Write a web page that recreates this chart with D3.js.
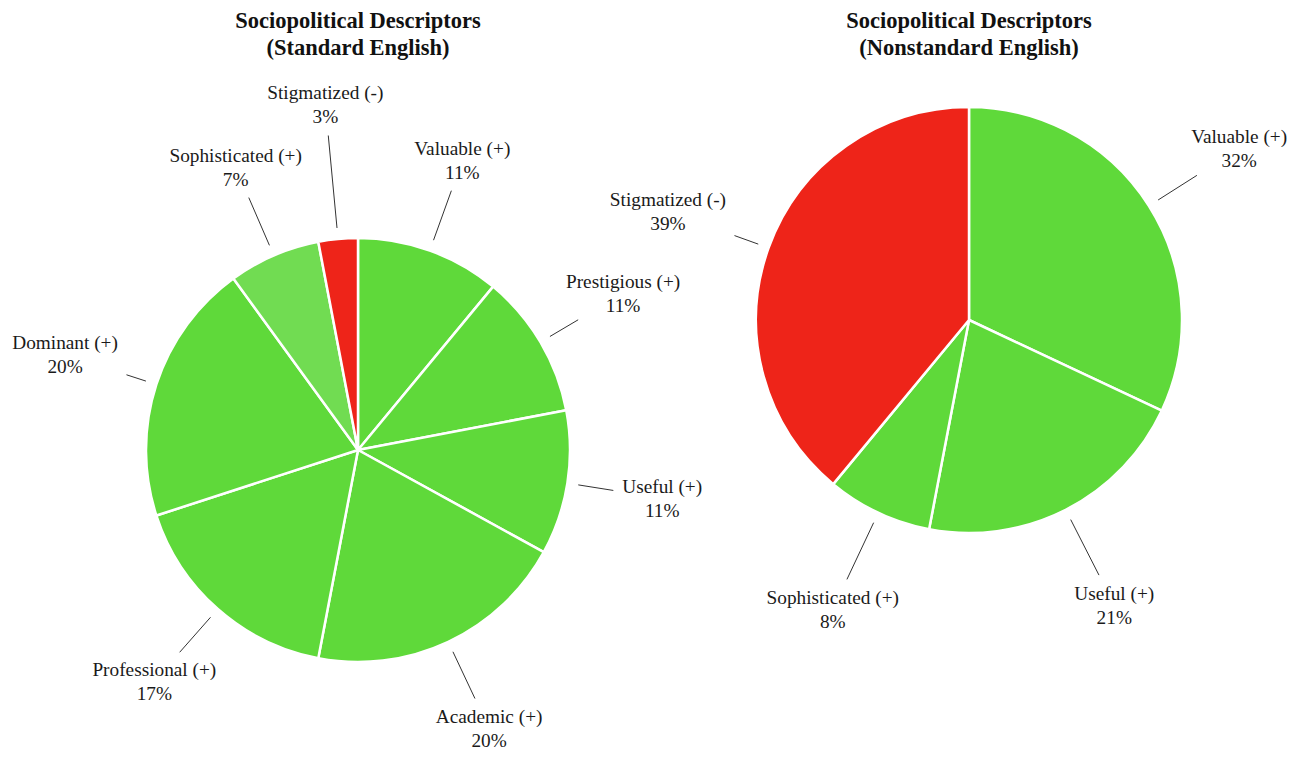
<!DOCTYPE html>
<html>
<head>
<meta charset="utf-8">
<script src="https://cdn.jsdelivr.net/npm/d3@7"></script>
<style>
  html, body { margin: 0; padding: 0; background: #ffffff; }
  svg { display: block; }
</style>
</head>
<body>
<svg id="chart" width="1299" height="759"></svg>
<script>
// Standard English descriptors (percent of responses)
const standardCategories = ["Valuable (+)", "Prestigious (+)", "Useful (+)", "Academic (+)",
  "Professional (+)", "Dominant (+)", "Sophisticated (+)", "Stigmatized (-)"];
const standardValues = [11, 11, 11, 20, 17, 20, 7, 3];

// Nonstandard English descriptors (percent of responses)
const nonstandardCategories = ["Valuable (+)", "Useful (+)", "Sophisticated (+)", "Stigmatized (-)"];
const nonstandardValues = [32, 21, 8, 39];

const titleLines = [
  ["Sociopolitical Descriptors", "(Standard English)"],
  ["Sociopolitical Descriptors", "(Nonstandard English)"]
];

const GREEN = "#5fd93a", LIGHT_GREEN = "#71dc52", RED = "#ee2419";

const svg = d3.select("#chart");

function drawPie(cfg) {
  const g = svg.append("g").attr("transform", `translate(${cfg.cx},${cfg.cy})`);
  const data = cfg.categories.map((c, i) => ({ label: c, value: cfg.values[i], i }));

  const pie = d3.pie().value(d => d.value).sort(null);
  const arcs = pie(data);
  const arc = d3.arc().innerRadius(0).outerRadius(cfg.r);

  g.selectAll("path.slice")
    .data(arcs)
    .join("path")
    .attr("class", "slice")
    .attr("d", arc)
    .attr("fill", d => cfg.color(d.data))
    .attr("stroke", "#ffffff")
    .attr("stroke-width", 2.5)
    .attr("stroke-linejoin", "round");

  // labels: two-line blocks centred on the slice's mid-angle ray
  const fontSize = 19.3, lineGap = 24, padding = 9, halfH = 22;
  arcs.forEach((a, k) => {
    const mid = (a.startAngle + a.endAngle) / 2;
    const sx = Math.sin(mid), sy = -Math.cos(mid);
    const rl = cfg.labelRadius + (cfg.labelExtra[k] || 0);
    const lx = rl * sx, ly = rl * sy;

    const t = g.append("text")
      .attr("x", lx)
      .attr("text-anchor", "middle")
      .attr("font-family", "'Liberation Serif', 'Times New Roman', serif")
      .attr("font-size", fontSize)
      .attr("fill", "#1a1a1a");
    t.append("tspan").attr("x", lx).attr("y", ly - 5.5).text(a.data.label);
    t.append("tspan").attr("x", lx).attr("y", ly - 5.5 + lineGap).text(a.data.value + "%");

    const bb = t.node().getBBox();
    const halfW = bb.width / 2;
    const dEdge = Math.min(
      Math.abs(sx) > 1e-6 ? halfW / Math.abs(sx) : Infinity,
      Math.abs(sy) > 1e-6 ? halfH / Math.abs(sy) : Infinity
    );
    const r0 = cfg.r + 11;
    const r1 = rl - dEdge - padding;
    g.append("line")
      .attr("x1", r0 * sx).attr("y1", r0 * sy)
      .attr("x2", r1 * sx).attr("y2", r1 * sy)
      .attr("stroke", "#333333")
      .attr("stroke-width", 1);
  });

  const title = svg.append("text")
    .attr("text-anchor", "middle")
    .attr("font-family", "'Liberation Serif', 'Times New Roman', serif")
    .attr("font-weight", "bold")
    .attr("font-size", 22.5)
    .attr("fill", "#111111");
  cfg.title.forEach((line, i) => {
    title.append("tspan").attr("x", cfg.cx).attr("y", 28 + i * 27).text(line);
  });
}

drawPie({
  cx: 358, cy: 450, r: 212,
  categories: standardCategories,
  values: standardValues,
  labelRadius: 308,
  labelExtra: [0, 0, 0, 0, 0, 0, 0, 39],
  title: titleLines[0],
  color: d => d.label.includes("(-)") ? RED : (d.label.startsWith("Sophisticated") ? LIGHT_GREEN : GREEN)
});

drawPie({
  cx: 969, cy: 320, r: 213,
  categories: nonstandardCategories,
  values: nonstandardValues,
  labelRadius: 320,
  labelExtra: [0, 0, 0, 0],
  title: titleLines[1],
  color: d => d.label.includes("(-)") ? RED : GREEN
});
</script>
</body>
</html>
